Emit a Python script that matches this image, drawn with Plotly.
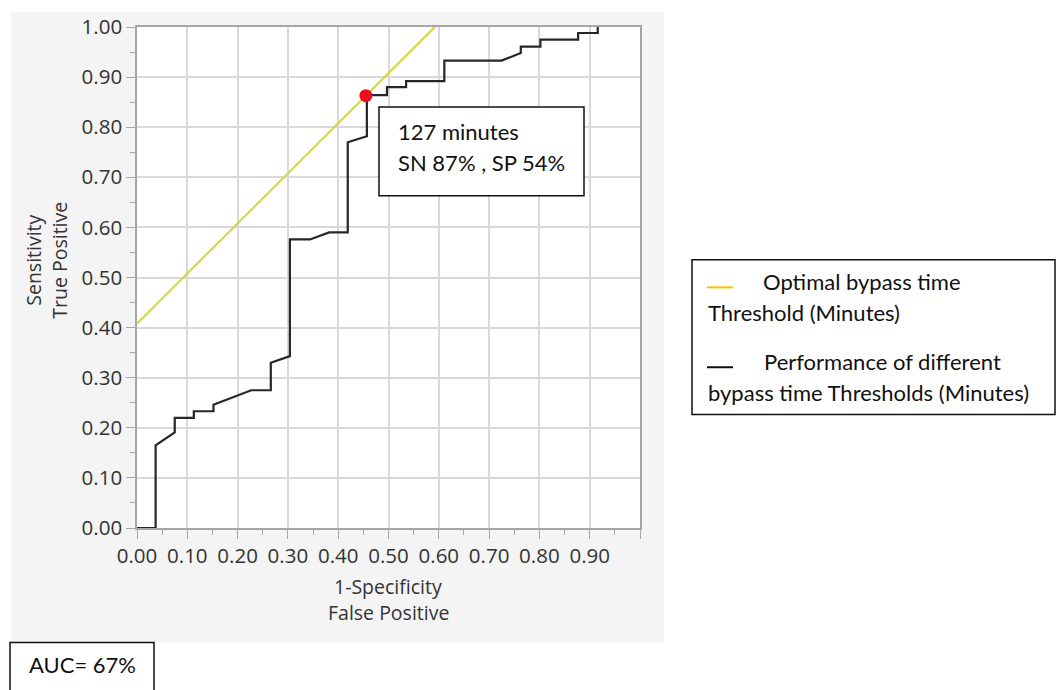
import plotly.graph_objects as go

# ROC curve (1-Specificity vs Sensitivity)
fpr = [0, 0.037, 0.037, 0.075, 0.075, 0.113, 0.113, 0.152, 0.152, 0.227, 0.266, 0.266,
       0.304, 0.304, 0.344, 0.382, 0.419, 0.419, 0.457, 0.457, 0.497, 0.497, 0.535, 0.535,
       0.611, 0.611, 0.725, 0.763, 0.763, 0.802, 0.802, 0.877, 0.877, 0.916, 0.916]
tpr = [0, 0, 0.165, 0.191, 0.220, 0.220, 0.233, 0.233, 0.246, 0.275, 0.275, 0.330,
       0.343, 0.576, 0.576, 0.590, 0.590, 0.770, 0.782, 0.864, 0.864, 0.880, 0.880, 0.892,
       0.892, 0.933, 0.933, 0.948, 0.961, 0.961, 0.975, 0.975, 0.988, 0.988, 1.0]

# Optimal threshold tangent line
opt_line_x = [0, 0.592]
opt_line_y = [0.408, 1.0]

# Optimal point
opt_x = [0.455]
opt_y = [0.863]

x_tickvals = [0, 0.1, 0.2, 0.3, 0.4, 0.5, 0.6, 0.7, 0.8, 0.9, 1.0]
x_ticktext = ["0.00", "0.10", "0.20", "0.30", "0.40", "0.50", "0.60", "0.70", "0.80", "0.90", ""]
y_tickvals = [0, 0.1, 0.2, 0.3, 0.4, 0.5, 0.6, 0.7, 0.8, 0.9, 1.0]
y_ticktext = ["0.00", "0.10", "0.20", "0.30", "0.40", "0.50", "0.60", "0.70", "0.80", "0.90", "1.00"]

annot_lines = ["127 minutes", "SN 87% , SP 54%"]
legend_items = ["Optimal bypass time", "Threshold (Minutes)",
                "Performance of different", "bypass time Thresholds (Minutes)"]
auc_text = "AUC= 67%"

W, H = 1057, 690
L, R, T, B = 137, 640, 20, 528


def px(X):
    return (X - L) / (R - L)


def py(Y):
    return (B - Y) / (B - T)


fig = go.Figure()
fig.add_trace(go.Scatter(x=opt_line_x, y=opt_line_y, mode="lines",
                         line=dict(color="#d3d631", width=2), showlegend=False,
                         hoverinfo="skip"))
fig.add_trace(go.Scatter(x=fpr, y=tpr, mode="lines",
                         line=dict(color="#262626", width=2.2), showlegend=False))
fig.add_trace(go.Scatter(x=opt_x, y=opt_y, mode="markers",
                         marker=dict(color="#e8101c", size=13), showlegend=False))

tick_font = dict(family="Open Sans", size=20.5, color="#333333")
axis_common = dict(range=[0, 1], showgrid=True, gridcolor="#d9d9d9", gridwidth=1.5,
                   showline=True, linecolor="#a6a6a6", linewidth=1.5, mirror=True,
                   ticks="outside", ticklen=9, tickcolor="#a6a6a6", tickwidth=1.2,
                   tickfont=tick_font, zeroline=False, tickmode="array",
                   minor=dict(dtick=0.05, ticks="outside", ticklen=5, tickcolor="#a6a6a6",
                              showgrid=False))

fig.update_xaxes(**axis_common, tickvals=x_tickvals, ticktext=x_ticktext)
fig.update_yaxes(**axis_common, tickvals=y_tickvals, ticktext=y_ticktext)

shapes = [
    # grey panel behind the chart
    dict(type="rect", xref="paper", yref="paper", x0=px(11), x1=px(664), y0=py(644), y1=py(5),
         fillcolor="#f4f4f4", line=dict(width=0), layer="below"),
    # white plot area
    dict(type="rect", xref="paper", yref="paper", x0=0, x1=1, y0=0, y1=1,
         fillcolor="white", line=dict(width=0), layer="below"),
    # annotation box
    dict(type="rect", xref="paper", yref="paper", x0=px(379), x1=px(584), y0=py(191), y1=py(101),
         fillcolor="white", line=dict(color="#111111", width=1.5), layer="above"),
    # legend box
    dict(type="rect", xref="paper", yref="paper", x0=px(692), x1=px(1055), y0=py(413), y1=py(256),
         fillcolor="white", line=dict(color="#111111", width=1.5), layer="above"),
    # legend samples
    dict(type="line", xref="paper", yref="paper", x0=px(707), x1=px(733), y0=py(284), y1=py(284),
         line=dict(color="#ffc000", width=2)),
    dict(type="line", xref="paper", yref="paper", x0=px(707), x1=px(733), y0=py(365), y1=py(365),
         line=dict(color="#111111", width=2)),
    # AUC box
    dict(type="rect", xref="paper", yref="paper", x0=px(10), x1=px(154), y0=py(695), y1=py(644),
         fillcolor="white", line=dict(color="#111111", width=1.5), layer="above"),
]

txt_font = dict(family="Lato", size=22, color="#111111")
title_font = dict(family="Open Sans", size=19.5, color="#333333")


def ann(X, Y, text, font, xanchor="left", textangle=0):
    return dict(xref="paper", yref="paper", x=px(X), y=py(Y), text=text, showarrow=False,
                xanchor=xanchor, yanchor="middle", font=font, textangle=textangle)


annotations = [
    ann(396, 126, annot_lines[0], txt_font),
    ann(396, 157, annot_lines[1], txt_font),
    ann(761, 278, legend_items[0], txt_font),
    ann(706, 309, legend_items[1], txt_font),
    ann(762, 359, legend_items[2], txt_font),
    ann(706, 391, legend_items[3], txt_font),
    ann(27, 666, auc_text, txt_font),
    ann(388, 587, "1-Specificity", title_font, xanchor="center"),
    ann(388, 614, "False Positive", title_font, xanchor="center"),
    dict(xref="paper", yref="paper", x=px(34), y=py(257), text="Sensitivity", showarrow=False,
         xanchor="center", yanchor="middle", font=title_font, textangle=-90),
    dict(xref="paper", yref="paper", x=px(60), y=py(257), text="True Positive", showarrow=False,
         xanchor="center", yanchor="middle", font=title_font, textangle=-90),
]

fig.update_layout(
    width=W, height=H,
    margin=dict(l=L, r=W - R, t=T, b=H - B, pad=0),
    paper_bgcolor="white", plot_bgcolor="white",
    shapes=shapes, annotations=annotations,
    showlegend=False,
)

fig.write_html("out.html")
